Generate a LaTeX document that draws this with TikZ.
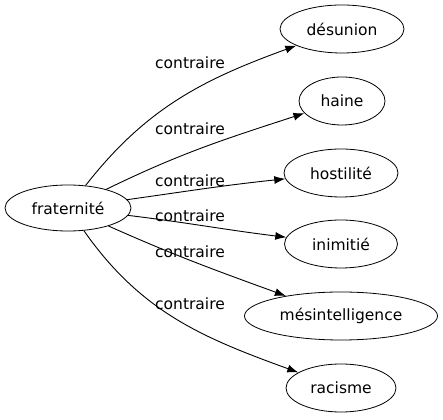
\documentclass[tikz,border=0pt]{standalone}
\usepackage{fontspec}
\setmainfont{DejaVu Sans}
\usepackage{tikz}
\usetikzlibrary{shapes.geometric,arrows.meta}

\begin{document}
\begin{tikzpicture}[x=1pt,y=1pt,
		word/.style={ellipse,draw,line width=0.8pt,inner sep=0pt,minimum height=48pt,font=\fontsize{15.5}{18}\selectfont},
		lbl/.style={inner sep=0pt,font=\fontsize{15.5}{18}\selectfont},
		rel/.style={-{Latex[length=11pt,width=8pt]},line width=0.9pt}]
			\useasboundingbox (0,0) rectangle (443,419);
			\node(frat)[word,minimum width=126pt,minimum height=46pt] at (68,211) {fraternité};
			\node(desunion)[word,minimum width=124pt] at (342,390) {désunion};
			\node(haine)[word,minimum width=86pt] at (342,318) {haine};
			\node(hostilite)[word,minimum width=114pt] at (341,246) {hostilité};
			\node(inimitie)[word,minimum width=113pt] at (341,175) {inimitié};
			\node(mesint)[word,minimum width=193pt] at (341,103) {mésintelligence};
			\node(racisme)[word,minimum width=110pt] at (341,31) {racisme};
			\node(l1)[lbl] at (190,356) {contraire};
			\node(l2)[lbl] at (190,290) {contraire};
			\node(l3)[lbl] at (190,238) {contraire};
			\node(l4)[lbl] at (190,203) {contraire};
			\node(l5)[lbl] at (190,167) {contraire};
			\node(l6)[lbl] at (190,115) {contraire};
			\draw[rel] (frat) to[out=52,in=200] (desunion);
			\draw[rel] (frat) to[out=26,in=198] (haine);
			\draw[rel] (frat) to[out=8,in=186] (hostilite);
			\draw[rel] (frat) to[out=-7,in=173] (inimitie);
			\draw[rel] (frat) to[out=-24,in=160] (mesint);
			\draw[rel] (frat) to[out=-55,in=160] (racisme);
		\end{tikzpicture}
\end{document}
